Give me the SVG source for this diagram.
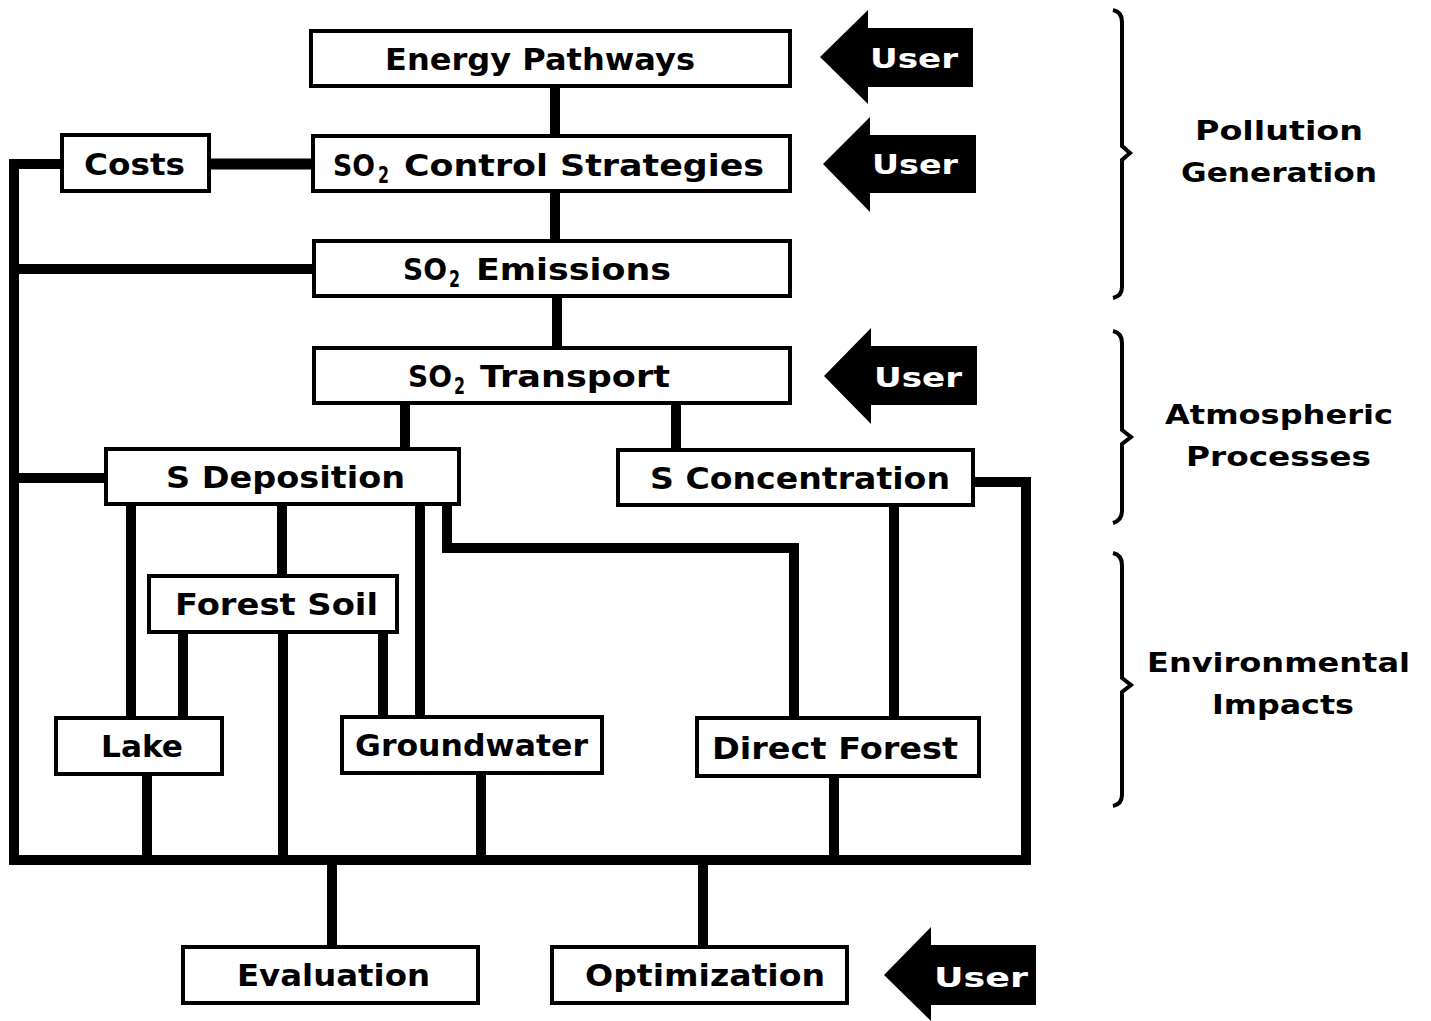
<svg xmlns="http://www.w3.org/2000/svg" width="1431" height="1021" viewBox="0 0 1431 1021">
<style>
.box{fill:#fff;stroke:#000;stroke-width:4}
.t{font-family:"DejaVu Sans","Liberation Sans",sans-serif;font-weight:bold;font-size:30px;fill:#000}
.sub{font-family:"DejaVu Sans","Liberation Sans",sans-serif;font-weight:bold;font-size:23px;fill:#000}
.lab{font-family:"DejaVu Sans","Liberation Sans",sans-serif;font-weight:bold;font-size:26px;fill:#000}
.u{font-family:"DejaVu Sans","Liberation Sans",sans-serif;font-weight:bold;font-size:26px;fill:#fff}
.c{fill:none;stroke:#000;stroke-width:10;stroke-linejoin:miter}
.br{fill:none;stroke:#000;stroke-width:4;stroke-linejoin:miter}
.ar{fill:#000}
</style>
<rect width="1431" height="1021" fill="#fff"/>
<g id="connectors">
<path class="c" d="M555,86V135"/>
<path class="c" d="M555,190V240"/>
<path class="c" d="M557,296V347"/>
<path class="c" d="M405,403V448"/>
<path class="c" d="M676,403V449"/>
<path class="c" d="M209,164H312" style="stroke-width:11"/>
<path class="c" d="M62,164H14V860H1026V482H975"/>
<path class="c" d="M14,269H313"/>
<path class="c" d="M14,478H105"/>
<path class="c" d="M131,505V717"/>
<path class="c" d="M282,505V575"/>
<path class="c" d="M420,505V716"/>
<path class="c" d="M447,505V548H794V717"/>
<path class="c" d="M183,633V717"/>
<path class="c" d="M283,633V860"/>
<path class="c" d="M383,633V716"/>
<path class="c" d="M147,775V860"/>
<path class="c" d="M481,773V860"/>
<path class="c" d="M834,778V860"/>
<path class="c" d="M894,507V717"/>
<path class="c" d="M332,860V946"/>
<path class="c" d="M703,860V946"/>
</g>
<g id="energy-pathways"><rect class="box" x="311" y="31" width="479" height="55"/><text class="t" x="385" y="70" textLength="310" lengthAdjust="spacingAndGlyphs">Energy Pathways</text></g>
<g id="costs"><rect class="box" x="62" y="135" width="147" height="56"/><text class="t" x="84" y="175" textLength="101" lengthAdjust="spacingAndGlyphs">Costs</text></g>
<g id="so2-control"><rect class="box" x="313" y="136" width="477" height="55"/><text class="t" x="333" y="176" textLength="42" lengthAdjust="spacingAndGlyphs">SO</text><text class="sub" x="378" y="183" textLength="11" lengthAdjust="spacingAndGlyphs">2</text><text class="t" x="404" y="176" textLength="360" lengthAdjust="spacingAndGlyphs">Control Strategies</text></g>
<g id="so2-emissions"><rect class="box" x="314" y="241" width="476" height="55"/><text class="t" x="403" y="280" textLength="44" lengthAdjust="spacingAndGlyphs">SO</text><text class="sub" x="449" y="287" textLength="11" lengthAdjust="spacingAndGlyphs">2</text><text class="t" x="476" y="280" textLength="195" lengthAdjust="spacingAndGlyphs">Emissions</text></g>
<g id="so2-transport"><rect class="box" x="314" y="348" width="476" height="55"/><text class="t" x="408" y="387" textLength="44" lengthAdjust="spacingAndGlyphs">SO</text><text class="sub" x="454" y="394" textLength="11" lengthAdjust="spacingAndGlyphs">2</text><text class="t" x="480" y="387" textLength="190" lengthAdjust="spacingAndGlyphs">Transport</text></g>
<g id="s-deposition"><rect class="box" x="106" y="449" width="353" height="55"/><text class="t" x="166" y="488" textLength="239" lengthAdjust="spacingAndGlyphs">S Deposition</text></g>
<g id="s-concentration"><rect class="box" x="618" y="450" width="355" height="55"/><text class="t" x="650" y="489" textLength="300" lengthAdjust="spacingAndGlyphs">S Concentration</text></g>
<g id="forest-soil"><rect class="box" x="149" y="576" width="248" height="56"/><text class="t" x="175" y="615" textLength="203" lengthAdjust="spacingAndGlyphs">Forest Soil</text></g>
<g id="lake"><rect class="box" x="56" y="718" width="166" height="56"/><text class="t" x="101" y="757" textLength="82" lengthAdjust="spacingAndGlyphs">Lake</text></g>
<g id="groundwater"><rect class="box" x="342" y="717" width="260" height="56"/><text class="t" x="355" y="756" textLength="233" lengthAdjust="spacingAndGlyphs">Groundwater</text></g>
<g id="direct-forest"><rect class="box" x="697" y="718" width="282" height="58"/><text class="t" x="712" y="759" textLength="246" lengthAdjust="spacingAndGlyphs">Direct Forest</text></g>
<g id="evaluation"><rect class="box" x="183" y="947" width="295" height="56"/><text class="t" x="237" y="986" textLength="193" lengthAdjust="spacingAndGlyphs">Evaluation</text></g>
<g id="optimization"><rect class="box" x="552" y="947" width="295" height="56"/><text class="t" x="585" y="986" textLength="240" lengthAdjust="spacingAndGlyphs">Optimization</text></g>
<g id="user-1"><polygon class="ar" points="820,57 868,10 868,28 973,28 973,87 868,87 868,104"/><text class="u" x="870" y="68" textLength="88" lengthAdjust="spacingAndGlyphs">User</text></g>
<g id="user-2"><polygon class="ar" points="823,164 870,117 870,135 976,135 976,193 870,193 870,212"/><text class="u" x="872" y="174" textLength="86" lengthAdjust="spacingAndGlyphs">User</text></g>
<g id="user-3"><polygon class="ar" points="824,376 871,328 871,346 977,346 977,405 871,405 871,424"/><text class="u" x="874" y="387" textLength="88" lengthAdjust="spacingAndGlyphs">User</text></g>
<g id="user-4"><polygon class="ar" points="884,975 931,927 931,945 1036,945 1036,1005 931,1005 931,1021"/><text class="u" x="934" y="987" textLength="94" lengthAdjust="spacingAndGlyphs">User</text></g>
<g id="brace-pollution"><path class="br" d="M1113,10Q1122,12 1122,22V146L1130,153L1122,160V287Q1122,296 1113,298"/><text class="lab" x="1195" y="140" textLength="168" lengthAdjust="spacingAndGlyphs">Pollution</text><text class="lab" x="1181" y="182" textLength="196" lengthAdjust="spacingAndGlyphs">Generation</text></g>
<g id="brace-atmospheric"><path class="br" d="M1113,331Q1122,333 1122,343V430L1131,437L1122,444V511Q1122,520 1113,523"/><text class="lab" x="1165" y="424" textLength="228" lengthAdjust="spacingAndGlyphs">Atmospheric</text><text class="lab" x="1186" y="466" textLength="185" lengthAdjust="spacingAndGlyphs">Processes</text></g>
<g id="brace-environmental"><path class="br" d="M1113,553Q1122,555 1122,565V678L1131,685L1122,692V795Q1122,804 1113,806"/><text class="lab" x="1147" y="672" textLength="263" lengthAdjust="spacingAndGlyphs">Environmental</text><text class="lab" x="1212" y="714" textLength="142" lengthAdjust="spacingAndGlyphs">Impacts</text></g>
</svg>
